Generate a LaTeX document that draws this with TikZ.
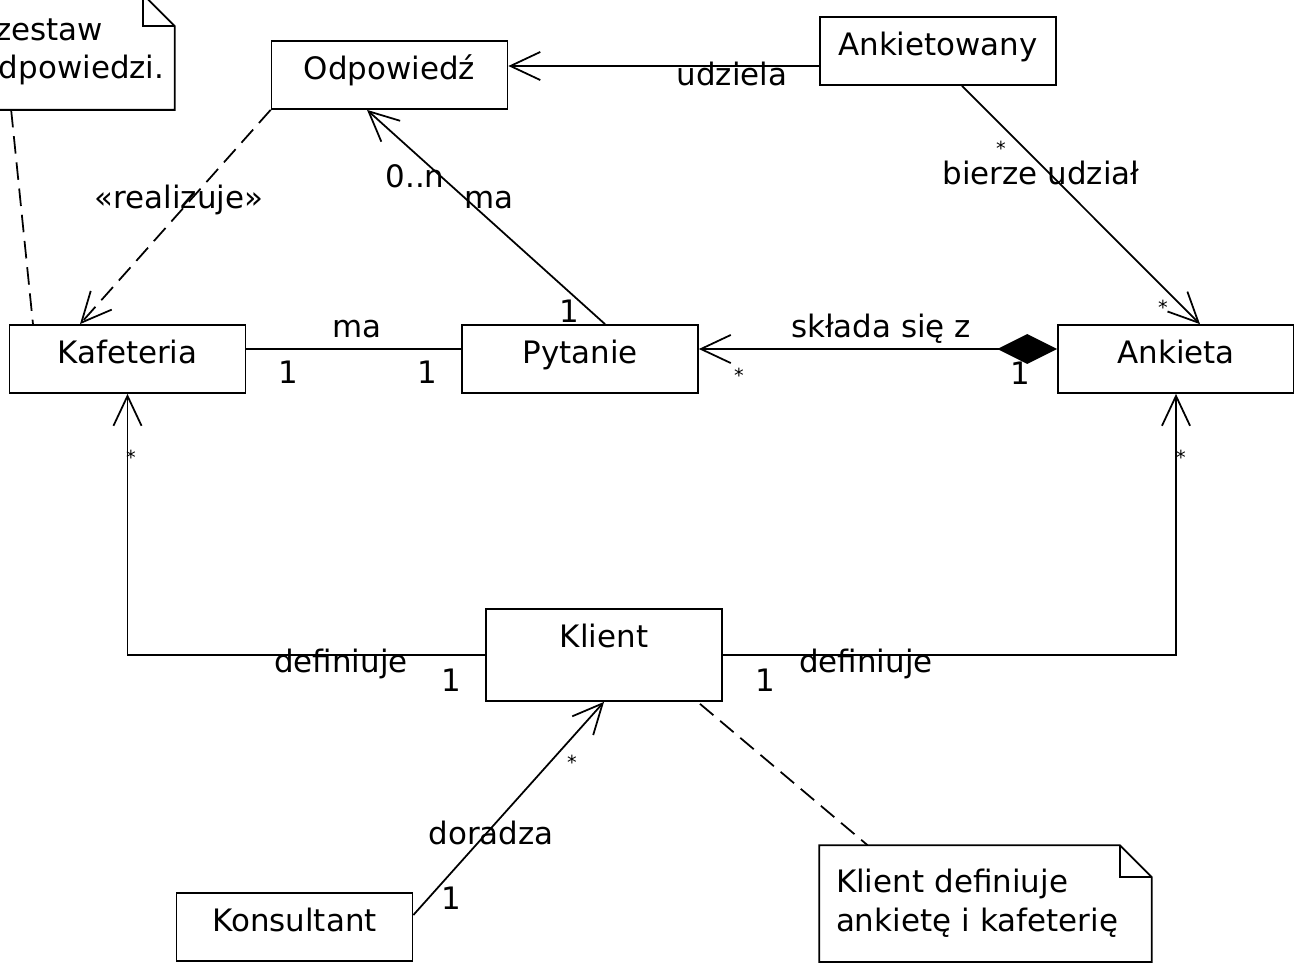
\documentclass[tikz,border=0pt]{standalone}
\usepackage{fontspec}
\setmainfont{DejaVu Sans}
\usetikzlibrary{arrows.meta,calc}

\begin{document}
\begin{tikzpicture}[x=0.02cm, y=-0.02cm, line width=1pt,
        every node/.style={font=\fontsize{17.6}{22}\selectfont},
        klasa/.style={draw, minimum width=4.72cm, minimum height=1.36cm, inner sep=0pt, text height=13pt, text depth=8.4pt},
        notatka/.style={align=left, inner xsep=0.32cm},
        gw/.style={font=\fontsize{11}{13}\selectfont},
        strz/.style={-{Straight Barb[length=17pt,width=16pt]}},
        kreski/.style={dash pattern=on 10pt off 5pt}]
        \useasboundingbox (0,0) rectangle (1294,968);
        \clip (0,0) rectangle (1294,968);

        % klasy
        \node[klasa] (odpowiedz) at (389.5,75) {Odpowiedź};
        \node[klasa] (ankietowany) at (938,51) {Ankietowany};
        \node[klasa] (kafeteria) at (127.5,359) {Kafeteria};
        \node[klasa] (pytanie) at (580,359) {Pytanie};
        \node[klasa] (ankieta) at (1176,359) {Ankieta};
        \node[klasa, minimum height=1.84cm, text depth=22pt] (klient) at (604,655) {Klient};
        \node[klasa] (konsultant) at (294.5,927) {Konsultant};

        % notatki
        \node[notatka, text width=3.56cm, minimum height=2.28cm] (zestaw) at (69,52) {\hspace*{0.3cm}zestaw\\odpowiedzi.};
        \node[notatka, text width=5.98cm, minimum height=2.3cm] (uwaga) at (985.5,903.5) {Klient definiuje\\ankietę i kafeterię};
        \foreach \n in {zestaw,uwaga}{
            \draw (\n.north west) -- ($(\n.north east)+(-32,0)$) -- ($(\n.north east)+(0,32)$) -- (\n.south east) -- (\n.south west) -- cycle;
            \draw ($(\n.north east)+(-32,0)$) |- ($(\n.north east)+(0,32)$);
        }

        % powiazania
        \draw[strz] ($(ankietowany.west)+(0,15)$) -- ($(odpowiedz.east)+(0,-9)$);
        \draw[strz] ($(ankietowany.south)+(24,0)$) -- ($(ankieta.north)+(24,0)$);
        \draw[strz, kreski] (odpowiedz.south west) -- ($(kafeteria.north)+(-47.5,0)$);
        \draw[strz] ($(pytanie.north)+(25,0)$) -- ($(odpowiedz.south)+(-22.5,0)$);
        \draw ($(kafeteria.east)+(0,-10)$) -- ($(pytanie.west)+(0,-10)$);
        \draw[{Diamond[length=34pt,width=17pt]}-{Straight Barb[length=17pt,width=16pt]}] ($(ankieta.west)+(0,-10)$) -- ($(pytanie.east)+(0,-10)$);
        \draw[strz] (klient.west) -| (kafeteria.south);
        \draw[strz] (klient.east) -| (ankieta.south);
        \draw[strz] ($(konsultant.east)+(0,-12)$) -- (klient.south);
        \draw[kreski] ($(klient.south)+(96,2)$) -- ($(uwaga.north)+(-118,0)$);
        \draw[kreski] ($(zestaw.south west)+(48,0)$) -- ($(kafeteria.north)+(-94.5,0)$);

        % etykiety
        \node (l1) at (732,74) {udziela};
        \node (l2) at (1041,173) {bierze udział};
        \node[gw] (l3) at (1001,148) {*};
        \node[gw] (l4) at (1163,307) {*};
        \node (l5) at (179,200) {«realizuje»};
        \node (l6) at (415,176) {0..n};
        \node (l7) at (489,200) {ma};
        \node (l8) at (569,311) {1};
        \node (l9) at (357,329) {ma};
        \node (l10) at (288,372) {1};
        \node (l11) at (427,372) {1};
        \node (l12) at (881,329) {składa się z};
        \node[gw] (l13) at (739,375) {*};
        \node (l14) at (1020,373) {1};
        \node[gw] (l15) at (131,457) {*};
        \node[gw] (l16) at (1181,457) {*};
        \node (l17) at (341,664) {definiuje};
        \node (l18) at (451,680) {1};
        \node (l19) at (765,680) {1};
        \node (l20) at (866,664) {definiuje};
        \node[gw] (l21) at (572,762) {*};
        \node (l22) at (491,833) {doradza};
        \node (l23) at (451,898) {1};
\end{tikzpicture}
\end{document}
